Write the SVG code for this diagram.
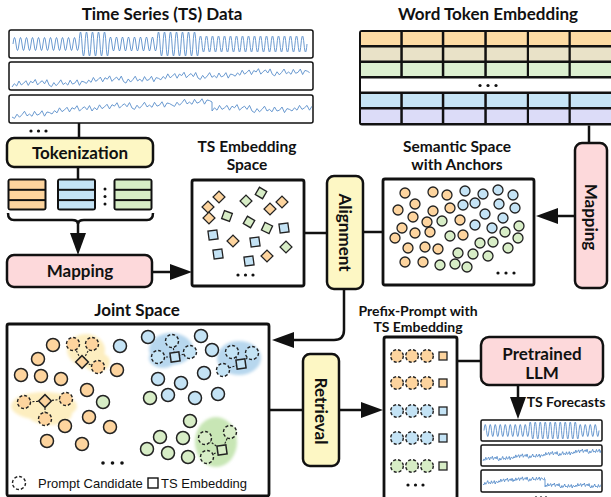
<svg xmlns="http://www.w3.org/2000/svg" width="611" height="497" viewBox="0 0 611 497">
<style>
.t{font-family:Lato,"Liberation Sans",sans-serif;font-weight:bold;fill:#111;text-anchor:middle}
.t17{font-size:17px}.t16{font-size:15.5px}.t14{font-size:14px}
.frame{fill:#fff;stroke:#111;stroke-width:2.8}
.sbox{fill:#fff;stroke:#111;stroke-width:1.5}
.nd{stroke:#111;stroke-width:2.5}
.yl{fill:#fdf7c4}.pk{fill:#fdd9db}
.o{fill:#fdd49e}.b{fill:#c4e3f5}.g{fill:#d7edc6}
.sh{stroke:#222;stroke-width:1.3}
.c{stroke:#222;stroke-width:1.5}
.dc{stroke:#222;stroke-width:1.4;stroke-dasharray:3 2}
.ln{fill:none;stroke:#111;stroke-width:2.5}
.ar{fill:none;stroke:#111;stroke-width:2.5;marker-end:url(#ah)}
.sig{fill:none;stroke:#5a8fcb;stroke-width:0.9}
.dl{fill:none;stroke:#222;stroke-width:1.1;stroke-dasharray:2 1.5}
.dot{fill:#111}
.lg{font-family:"Liberation Sans",Arial,sans-serif;font-size:13px;fill:#111}
.ho{fill:#fdeec0}.hb{fill:#b7d7ee}.hg{fill:#c8e6b5}
</style>
<defs>
<marker id="ah" markerUnits="userSpaceOnUse" markerWidth="24" markerHeight="16" refX="12" refY="8" orient="auto" viewBox="0 0 24 16"><path d="M0,0 L22,8 L0,16 z" fill="#111"/></marker>
<filter id="blur" x="-30%" y="-30%" width="160%" height="160%"><feGaussianBlur stdDeviation="1.8"/></filter>
<path id="nz" class="sig" vector-effect="non-scaling-stroke" d="M0 0 l2.5 -4 2.5 3 2.5 -6 2.5 5 2.5 -2 2.5 -3 2.5 6 2.5 -5 2.5 2 2.5 -4 2.5 7 2.5 -3 2.5 -2 2.5 4 2.5 -5 2.5 7 l2.5 2 2.5 -5 2.5 4 2.5 -3 2.5 -4 2.5 6 2.5 -2 2.5 3 2.5 -6 2.5 5 2.5 -1 2.5 -4 2.5 7 2.5 -5 2.5 1 2.5 2 l2.5 -4 2.5 3 2.5 -6 2.5 5 2.5 -2 2.5 -3 2.5 6 2.5 -5 2.5 2 2.5 -4 2.5 7 2.5 -3 2.5 -2 2.5 4 2.5 -5 2.5 7 l2.5 2 2.5 -5 2.5 4 2.5 -3 2.5 -4 2.5 6 2.5 -2 2.5 3 2.5 -6 2.5 5 2.5 -1 2.5 -4 2.5 7 2.5 -5 2.5 1 2.5 2 l2.5 -4 2.5 3 2.5 -6 2.5 5 2.5 -2 2.5 -3 2.5 6 2.5 -5 2.5 2 2.5 -4 2.5 7 2.5 -3 2.5 -2 2.5 4 2.5 -5 2.5 7 l2.5 2 2.5 -5 2.5 4 2.5 -3 2.5 -4 2.5 6 2.5 -2 2.5 3 2.5 -6 2.5 5 2.5 -1 2.5 -4 2.5 7 2.5 -5 2.5 1 2.5 2 l2.5 -4 2.5 3 2.5 -6 2.5 5 2.5 -2 2.5 -3 2.5 6 2.5 -5 2.5 2 2.5 -4 2.5 7 2.5 -3 2.5 -2 2.5 4 2.5 -5 2.5 7 l2.5 2 2.5 -5 2.5 4 2.5 -3 2.5 -4 2.5 6 2.5 -2 2.5 3 2.5 -6 2.5 5 2.5 -1 2.5 -4 2.5 7 2.5 -5 2.5 1 2.5 2"/>
<path id="nz2" class="sig" vector-effect="non-scaling-stroke" d="M0 0 l2.5 2 2.5 -5 2.5 4 2.5 -3 2.5 -4 2.5 6 2.5 -2 2.5 3 2.5 -6 2.5 5 2.5 -1 2.5 -4 2.5 7 2.5 -5 2.5 1 2.5 2 l2.5 -4 2.5 3 2.5 -6 2.5 5 2.5 -2 2.5 -3 2.5 6 2.5 -5 2.5 2 2.5 -4 2.5 7 2.5 -3 2.5 -2 2.5 4 2.5 -5 2.5 7 l2.5 -4 2.5 3 2.5 -6 2.5 5 2.5 -2 2.5 -3 2.5 6 2.5 -5 2.5 2 2.5 -4 2.5 7 2.5 -3 2.5 -2 2.5 4 2.5 -5 2.5 7 l2.5 2 2.5 -5 2.5 4 2.5 -3 2.5 -4 2.5 6 2.5 -2 2.5 3 2.5 -6 2.5 5 2.5 -1 2.5 -4 2.5 7 2.5 -5 2.5 1 2.5 2 l2.5 2 2.5 -5 2.5 4 2.5 -3 2.5 -4 2.5 6 2.5 -2 2.5 3 2.5 -6 2.5 5 2.5 -1 2.5 -4 2.5 7 2.5 -5 2.5 1 2.5 2 l2.5 -4 2.5 3 2.5 -6 2.5 5 2.5 -2 2.5 -3 2.5 6 2.5 -5 2.5 2 2.5 -4 2.5 7 2.5 -3 2.5 -2 2.5 4 2.5 -5 2.5 7 l2.5 2 2.5 -5 2.5 4 2.5 -3 2.5 -4 2.5 6 2.5 -2 2.5 3 2.5 -6 2.5 5 2.5 -1 2.5 -4 2.5 7 2.5 -5 2.5 1 2.5 2 l2.5 -4 2.5 3 2.5 -6 2.5 5 2.5 -2 2.5 -3 2.5 6 2.5 -5 2.5 2 2.5 -4 2.5 7 2.5 -3 2.5 -2 2.5 4 2.5 -5 2.5 7"/>
<clipPath id="c1"><rect x="10" y="31" width="302" height="26"/></clipPath>
<clipPath id="c2"><rect x="10" y="63" width="302" height="26"/></clipPath>
<clipPath id="c3a"><rect x="10" y="96" width="202" height="26"/></clipPath>
<clipPath id="c3b"><rect x="212" y="96" width="100" height="26"/></clipPath>
<clipPath id="f2"><rect x="482" y="446" width="119" height="19"/></clipPath>
<clipPath id="f3a"><rect x="482" y="471" width="63" height="20"/></clipPath>
<clipPath id="f3b"><rect x="545" y="471" width="56" height="20"/></clipPath>
</defs>

<g id="ts-data">
<text class="t t17" x="162" y="20">Time Series (TS) Data</text>
<rect class="sbox" x="9" y="30" width="304" height="28" rx="2"/>
<rect class="sbox" x="9" y="62" width="304" height="28" rx="2"/>
<rect class="sbox" x="9" y="95" width="304" height="28" rx="2"/>
<path class="sig" d="M13 44 q1.5 -13 3 0 t3 0 3 0 3 0 3 0 3 0 3 0 3 0 3 0 3 0 3 0 3 0 3 0 3 0 3 0 3 0 3 0 3 0 3 0 3 0 3 0 3 0 q1.5 -24 3 0 t3 0 3 0 3 0 3 0 3 0 3 0 3 0 3 0 3 0 q1.5 -14 3 0 t3 0 3 0 3 0 3 0 3 0 3 0 3 0 3 0 3 0 3 0 3 0 3 0 3 0 3 0 3 0 q1.5 -24 3 0 t3 0 3 0 3 0 3 0 3 0 3 0 3 0 3 0 3 0 3 0 3 0 3 0 3 0 q1.5 -16 3 0 t3 0 3 0 3 0 3 0 3 0 3 0 3 0 3 0 3 0 3 0 3 0 3 0 3 0 3 0 3 0 3 0 3 0 3 0 3 0 3 0 3 0 3 0 3 0 3 0 3 0 3 0 3 0 3 0 3 0 3 0 3 0 3 0 3 0 3 0 3 0"/>
<g clip-path="url(#c2)"><use href="#nz" transform="matrix(0.93,-0.045,0,0.8,12,87)"/></g>
<g clip-path="url(#c3a)"><use href="#nz2" transform="matrix(1,-0.075,0,0.8,12,117)"/></g>
<g clip-path="url(#c3b)"><use href="#nz" transform="matrix(1,0,0,0.8,212,111)"/></g>
<path class="sig" d="M212 102 L212 111"/>
<circle class="dot" cx="31" cy="131" r="1.6"/><circle class="dot" cx="38.5" cy="131" r="1.6"/><circle class="dot" cx="46" cy="131" r="1.6"/>
</g>

<g id="tokenization">
<rect class="nd yl" x="7" y="138" width="146" height="29" rx="7"/>
<text class="t t17" x="80" y="159">Tokenization</text>
</g>

<g id="ts-tokens">
<rect x="7.5" y="178.5" width="39" height="32" rx="3" fill="#111"/>
<rect class="o" x="9.5" y="180.5" width="35" height="8.3"/><rect class="o" x="9.5" y="190.8" width="35" height="8.3"/><rect class="o" x="9.5" y="201.1" width="35" height="7.4"/>
<rect x="57" y="178.5" width="39" height="32" rx="3" fill="#111"/>
<rect class="b" x="59" y="180.5" width="35" height="8.3"/><rect class="b" x="59" y="190.8" width="35" height="8.3"/><rect class="b" x="59" y="201.1" width="35" height="7.4"/>
<rect x="113.5" y="178.5" width="39" height="32" rx="3" fill="#111"/>
<rect class="g" x="115.5" y="180.5" width="35" height="8.3"/><rect class="g" x="115.5" y="190.8" width="35" height="8.3"/><rect class="g" x="115.5" y="201.1" width="35" height="7.4"/>
<circle class="dot" cx="105" cy="189" r="1.5"/><circle class="dot" cx="105" cy="196.5" r="1.5"/><circle class="dot" cx="105" cy="204" r="1.5"/>
</g>

<g id="mapping-ts">
<rect class="nd pk" x="7" y="255" width="145" height="32" rx="7"/>
<text class="t t17" x="80" y="277">Mapping</text>
</g>

<g id="ts-embedding-space">
<text class="t t16" x="247" y="152">TS Embedding</text>
<text class="t t16" x="247" y="170">Space</text>
<rect class="frame" x="192" y="180" width="112" height="106" rx="2"/>
<g class="sh">
<rect class="o" x="-4.2" y="-4.2" width="8.4" height="8.4" transform="translate(219,197) rotate(45)"/>
<rect class="o" x="-4.2" y="-4.2" width="8.4" height="8.4" transform="translate(208,207) rotate(45)"/>
<rect class="o" x="-4.2" y="-4.2" width="8.4" height="8.4" transform="translate(209,218) rotate(45)"/>
<rect class="o" x="-4.2" y="-4.2" width="8.4" height="8.4" transform="translate(233,241) rotate(45)"/>
<rect class="o" x="-4.2" y="-4.2" width="8.4" height="8.4" transform="translate(270,209) rotate(45)"/>
<rect class="o" x="-4.2" y="-4.2" width="8.4" height="8.4" transform="translate(282,202) rotate(45)"/>
<rect class="o" x="-4.2" y="-4.2" width="8.4" height="8.4" transform="translate(267,256) rotate(45)"/>
<rect class="g" x="-4.2" y="-4.2" width="8.4" height="8.4" transform="translate(246,201) rotate(45)"/>
<rect class="g" x="-4.2" y="-4.2" width="8.4" height="8.4" transform="translate(261,193) rotate(30)"/>
<rect class="g" x="-4.2" y="-4.2" width="8.4" height="8.4" transform="translate(227,216) rotate(20)"/>
<rect class="g" x="-4.2" y="-4.2" width="8.4" height="8.4" transform="translate(249,222) rotate(30)"/>
<rect class="g" x="-4.2" y="-4.2" width="8.4" height="8.4" transform="translate(267,228) rotate(25)"/>
<rect class="g" x="-4.2" y="-4.2" width="8.4" height="8.4" transform="translate(286,247) rotate(45)"/>
<rect class="b" x="-4.5" y="-4.5" width="9" height="9" transform="translate(213,235) rotate(-8)"/>
<rect class="b" x="-4.5" y="-4.5" width="9" height="9" transform="translate(218,254) rotate(-8)"/>
<rect class="b" x="-4.5" y="-4.5" width="9" height="9" transform="translate(255,242) rotate(-8)"/>
<rect class="b" x="-4.5" y="-4.5" width="9" height="9" transform="translate(249,261) rotate(-8)"/>
<rect class="b" x="-4.5" y="-4.5" width="9" height="9" transform="translate(284,228) rotate(-8)"/>
</g>
<circle class="dot" cx="238" cy="275" r="1.6"/><circle class="dot" cx="245.5" cy="275" r="1.6"/><circle class="dot" cx="253" cy="275" r="1.6"/>
</g>

<g id="alignment">
<rect class="nd yl" x="327" y="176" width="36" height="113" rx="7"/>
<text class="t t17" transform="translate(345,232.5) rotate(90)" dy="6">Alignment</text>
</g>

<g id="semantic-space">
<text class="t t16" x="457" y="152">Semantic Space</text>
<text class="t t16" x="457" y="170">with Anchors</text>
<rect class="frame" x="383" y="179" width="151" height="106" rx="2"/>
<g class="sh">
<circle class="o" cx="405" cy="193" r="5"/><circle class="o" cx="433" cy="192" r="5"/><circle class="o" cx="447" cy="195" r="5"/>
<circle class="o" cx="415" cy="204" r="5"/><circle class="o" cx="398" cy="210" r="5"/><circle class="o" cx="433" cy="211" r="5"/>
<circle class="o" cx="450" cy="208" r="5"/><circle class="o" cx="413" cy="217" r="5"/><circle class="o" cx="427" cy="222" r="5"/>
<circle class="o" cx="460" cy="220" r="5"/><circle class="o" cx="402" cy="228" r="5"/><circle class="o" cx="430" cy="232" r="5"/>
<circle class="o" cx="415" cy="233" r="5"/><circle class="o" cx="395" cy="238" r="5"/><circle class="o" cx="463" cy="235" r="5"/>
<circle class="o" cx="408" cy="248" r="5"/><circle class="o" cx="425" cy="247" r="5"/><circle class="o" cx="438" cy="249" r="5"/>
<circle class="o" cx="405" cy="262" r="5"/><circle class="o" cx="423" cy="262" r="5"/>
<circle class="b" cx="465" cy="191" r="5"/><circle class="b" cx="483" cy="194" r="5"/><circle class="b" cx="498" cy="190" r="5"/>
<circle class="b" cx="513" cy="195" r="5"/><circle class="b" cx="463" cy="205" r="5"/><circle class="b" cx="475" cy="203" r="5"/>
<circle class="b" cx="499" cy="204" r="5"/><circle class="b" cx="515" cy="208" r="5"/><circle class="b" cx="485" cy="214" r="5"/>
<circle class="b" cx="503" cy="218" r="5"/><circle class="b" cx="475" cy="225" r="5"/><circle class="b" cx="492" cy="228" r="5"/>
<circle class="g" cx="442" cy="221" r="5"/><circle class="g" cx="450" cy="236" r="5"/><circle class="g" cx="505" cy="232" r="5"/>
<circle class="g" cx="519" cy="226" r="5"/><circle class="g" cx="518" cy="238" r="5"/><circle class="g" cx="493" cy="242" r="5"/>
<circle class="g" cx="480" cy="243" r="5"/><circle class="g" cx="458" cy="253" r="5"/><circle class="g" cx="473" cy="254" r="5"/>
<circle class="g" cx="488" cy="256" r="5"/><circle class="g" cx="508" cy="248" r="5"/><circle class="g" cx="440" cy="265" r="5"/>
<circle class="g" cx="455" cy="264" r="5"/><circle class="g" cx="467" cy="267" r="5"/>
</g>
<circle class="dot" cx="498" cy="273" r="1.6"/><circle class="dot" cx="506" cy="273" r="1.6"/><circle class="dot" cx="514" cy="273" r="1.6"/>
</g>

<g id="word-token-embedding">
<text class="t t17" x="488" y="20">Word Token Embedding</text>
<rect x="359" y="30" width="256" height="95.5" rx="3" fill="#111"/>
<g fill="#fddba4"><rect x="361" y="32" width="39.3" height="13"/><rect x="402.8" y="32" width="39" height="13"/><rect x="444.3" y="32" width="40" height="13"/><rect x="486.8" y="32" width="40" height="13"/><rect x="529" y="32" width="39.5" height="13"/><rect x="570.8" y="32" width="42" height="13"/></g>
<g fill="#e9e2c8"><rect x="361" y="47.5" width="39.3" height="13"/><rect x="402.8" y="47.5" width="39" height="13"/><rect x="444.3" y="47.5" width="40" height="13"/><rect x="486.8" y="47.5" width="40" height="13"/><rect x="529" y="47.5" width="39.5" height="13"/><rect x="570.8" y="47.5" width="42" height="13"/></g>
<g fill="#dcefd0"><rect x="361" y="63" width="39.3" height="13"/><rect x="402.8" y="63" width="39" height="13"/><rect x="444.3" y="63" width="40" height="13"/><rect x="486.8" y="63" width="40" height="13"/><rect x="529" y="63" width="39.5" height="13"/><rect x="570.8" y="63" width="42" height="13"/></g>
<rect x="361" y="78.5" width="252" height="13" fill="#fff"/>
<g fill="#c6e4f5"><rect x="361" y="94" width="39.3" height="13"/><rect x="402.8" y="94" width="39" height="13"/><rect x="444.3" y="94" width="40" height="13"/><rect x="486.8" y="94" width="40" height="13"/><rect x="529" y="94" width="39.5" height="13"/><rect x="570.8" y="94" width="42" height="13"/></g>
<g fill="#dcdcf8"><rect x="361" y="109.5" width="39.3" height="13.5"/><rect x="402.8" y="109.5" width="39" height="13.5"/><rect x="444.3" y="109.5" width="40" height="13.5"/><rect x="486.8" y="109.5" width="40" height="13.5"/><rect x="529" y="109.5" width="39.5" height="13.5"/><rect x="570.8" y="109.5" width="42" height="13.5"/></g>
<circle class="dot" cx="480" cy="85.5" r="1.6"/><circle class="dot" cx="488" cy="85.5" r="1.6"/><circle class="dot" cx="496" cy="85.5" r="1.6"/>
</g>

<g id="mapping-word">
<rect class="nd pk" x="575" y="143" width="32" height="145" rx="7"/>
<text class="t t17" transform="translate(591,217) rotate(90)" dy="6">Mapping</text>
</g>

<g id="joint-space">
<text class="t t17" x="137" y="316">Joint Space</text>
<rect class="frame" x="7" y="324" width="262" height="172" rx="2"/>
<g filter="url(#blur)">
<ellipse class="ho" cx="86" cy="350" rx="19" ry="16"/><ellipse class="ho" cx="97" cy="362" rx="13" ry="10"/>
<ellipse class="ho" cx="44" cy="406" rx="33" ry="14"/><ellipse class="ho" cx="50" cy="414" rx="22" ry="11"/>
<ellipse class="hb" cx="171" cy="349" rx="22" ry="16"/><ellipse class="hb" cx="163" cy="358" rx="14" ry="10"/>
<ellipse class="hb" cx="239" cy="358" rx="22" ry="17"/>
<ellipse class="hg" cx="216" cy="442" rx="21" ry="25"/>
</g>
<g class="c">
<circle class="o" cx="53" cy="345" r="6.5"/><circle class="o" cx="38" cy="359" r="6.5"/><circle class="o" cx="21" cy="375" r="6.5"/>
<circle class="o" cx="41" cy="376" r="6.5"/><circle class="o" cx="61" cy="379" r="6.5"/><circle class="o" cx="117" cy="370" r="6.5"/>
<circle class="o" cx="87" cy="390" r="6.5"/><circle class="o" cx="89" cy="417" r="6.5"/><circle class="o" cx="65" cy="426" r="6.5"/>
<circle class="o" cx="110" cy="427" r="6.5"/><circle class="o" cx="47" cy="441" r="6.5"/><circle class="o" cx="82" cy="444" r="6.5"/>
<circle class="b" cx="120" cy="346" r="6.5"/><circle class="b" cx="148" cy="337" r="6.5"/><circle class="b" cx="201" cy="336" r="6.5"/>
<circle class="b" cx="212" cy="350" r="6.5"/><circle class="b" cx="204" cy="373" r="6.5"/><circle class="b" cx="158" cy="379" r="6.5"/>
<circle class="b" cx="181" cy="383" r="6.5"/><circle class="b" cx="195" cy="398" r="6.5"/><circle class="b" cx="218" cy="394" r="6.5"/>
<circle class="b" cx="168" cy="395" r="6.5"/>
<circle class="g" cx="103" cy="402" r="6.5"/><circle class="g" cx="150" cy="398" r="6.5"/><circle class="g" cx="190" cy="421" r="6.5"/>
<circle class="g" cx="160" cy="437" r="6.5"/><circle class="g" cx="183" cy="438" r="6.5"/><circle class="g" cx="147" cy="449" r="6.5"/>
<circle class="g" cx="168" cy="453" r="6.5"/><circle class="g" cx="188" cy="457" r="6.5"/>
</g>
<g class="dl">
<path d="M82 362 L73 344 M82 362 L92 344 M82 362 L98 367"/>
<path d="M45 401 L24 402 M45 401 L66 399 M45 401 L45 419"/>
<path d="M175 357 L172 341 M175 357 L158 357 M175 357 L190 352"/>
<path d="M241 364 L232 352 M241 364 L252 353 M241 364 L223 370"/>
<path d="M222 450 L230 432 M222 450 L205 438 M222 450 L207 457"/>
</g>
<g class="dc">
<circle class="o" cx="73" cy="344" r="6.5"/><circle class="o" cx="92" cy="344" r="6.5"/><circle class="o" cx="98" cy="367" r="6.5"/>
<circle class="o" cx="24" cy="402" r="6.5"/><circle class="o" cx="66" cy="399" r="6.5"/><circle class="o" cx="45" cy="419" r="6.5"/>
<circle class="b" cx="172" cy="341" r="6.5"/><circle class="b" cx="158" cy="357" r="6.5"/><circle class="b" cx="190" cy="352" r="6.5"/>
<circle class="b" cx="232" cy="352" r="6.5"/><circle class="b" cx="252" cy="353" r="6.5"/><circle class="b" cx="223" cy="370" r="6.5"/>
<circle class="g" cx="230" cy="432" r="6.5"/><circle class="g" cx="205" cy="438" r="6.5"/><circle class="g" cx="207" cy="457" r="6.5"/>
</g>
<g class="c">
<rect class="o" x="-4.5" y="-4.5" width="9" height="9" transform="translate(82,362) rotate(45)"/>
<rect class="o" x="-4.5" y="-4.5" width="9" height="9" transform="translate(45,401) rotate(45)"/>
<rect class="b" x="-4.5" y="-4.5" width="9" height="9" transform="translate(175,357) rotate(-8)"/>
<rect class="b" x="-4.5" y="-4.5" width="9" height="9" transform="translate(241,364) rotate(-8)"/>
<rect class="g" x="-4.5" y="-4.5" width="9" height="9" transform="translate(222,450) rotate(-8)"/>
</g>
<circle class="dot" cx="103" cy="463" r="1.8"/><circle class="dot" cx="112.5" cy="463" r="1.8"/><circle class="dot" cx="122" cy="463" r="1.8"/>
<circle class="dc" cx="19" cy="483" r="6.5" fill="#fff"/>
<text class="lg" x="38" y="488">Prompt Candidate</text>
<rect x="148" y="478" width="10" height="10" fill="#fff" stroke="#111" stroke-width="1.4"/>
<text class="lg" x="161" y="488">TS Embedding</text>
</g>

<g id="retrieval">
<rect class="nd yl" x="303" y="354" width="36" height="112" rx="7"/>
<text class="t t17" transform="translate(321,411) rotate(90)" dy="6">Retrieval</text>
</g>

<g id="prefix-prompt">
<text class="t t14" x="418" y="316">Prefix-Prompt with</text>
<text class="t t14" x="418" y="332">TS Embedding</text>
<rect class="frame" x="384" y="337" width="73" height="170" rx="2"/>
<g class="dc">
<circle class="o" cx="397" cy="356" r="6.3"/><circle class="o" cx="412" cy="356" r="6.3"/><circle class="o" cx="427" cy="356" r="6.3"/>
<circle class="o" cx="397" cy="383" r="6.3"/><circle class="o" cx="412" cy="383" r="6.3"/><circle class="o" cx="427" cy="383" r="6.3"/>
<circle class="b" cx="397" cy="411" r="6.3"/><circle class="b" cx="412" cy="411" r="6.3"/><circle class="b" cx="427" cy="411" r="6.3"/>
<circle class="b" cx="397" cy="438" r="6.3"/><circle class="b" cx="412" cy="438" r="6.3"/><circle class="b" cx="427" cy="438" r="6.3"/>
<circle class="g" cx="397" cy="466" r="6.3"/><circle class="g" cx="412" cy="466" r="6.3"/><circle class="g" cx="427" cy="466" r="6.3"/>
</g>
<g class="sh">
<rect class="o" x="439" y="352" width="8" height="8"/><rect class="o" x="439" y="379" width="8" height="8"/>
<rect class="b" x="439" y="407" width="8" height="8"/><rect class="b" x="439" y="434" width="8" height="8"/>
<rect class="g" x="439" y="462" width="8" height="8"/>
</g>
<circle class="dot" cx="408" cy="485" r="1.6"/><circle class="dot" cx="415.5" cy="485" r="1.6"/><circle class="dot" cx="423" cy="485" r="1.6"/>
</g>

<g id="pretrained-llm">
<rect class="nd pk" x="481" y="337" width="122" height="48" rx="8"/>
<text class="t t17" x="542" y="360">Pretrained</text>
<text class="t t17" x="542" y="379">LLM</text>
</g>

<g id="ts-forecasts">
<text class="t t14" x="566" y="407">TS Forecasts</text>
<rect class="sbox" x="481" y="420" width="121" height="21" rx="1.5" stroke-width="1.4"/>
<rect class="sbox" x="481" y="445" width="121" height="21" rx="1.5" stroke-width="1.4"/>
<rect class="sbox" x="481" y="470" width="121" height="22" rx="1.5" stroke-width="1.4"/>
<path class="sig" d="M484 430.5 q1.25 -12 2.5 0 t2.5 0 2.5 0 2.5 0 2.5 0 2.5 0 2.5 0 2.5 0 2.5 0 2.5 0 2.5 0 2.5 0 2.5 0 2.5 0 2.5 0 2.5 0 2.5 0 2.5 0 q1.25 -17 2.5 0 t2.5 0 2.5 0 2.5 0 2.5 0 2.5 0 2.5 0 2.5 0 2.5 0 2.5 0 2.5 0 2.5 0 2.5 0 2.5 0 2.5 0 2.5 0 2.5 0 2.5 0 2.5 0 2.5 0 q1.25 -12 2.5 0 t2.5 0 2.5 0 2.5 0 2.5 0 2.5 0 2.5 0 2.5 0"/>
<g clip-path="url(#f2)"><use href="#nz" transform="matrix(0.375,-0.03,0,0.5,483,461)"/></g>
<g clip-path="url(#f3a)"><use href="#nz2" transform="matrix(0.375,-0.03,0,0.5,483,484)"/></g>
<g clip-path="url(#f3b)"><use href="#nz" transform="matrix(0.375,0,0,0.5,545,487)"/></g>
<path class="sig" d="M545 479 L545 487"/>
<circle class="dot" cx="536" cy="497.5" r="1.2"/><circle class="dot" cx="541" cy="497.5" r="1.2"/><circle class="dot" cx="546" cy="497.5" r="1.2"/>
</g>

<g id="connectors">
<path class="ln" d="M79 123 V138"/>
<path class="ln" d="M78 167 V179"/>
<path class="ln" stroke-width="2" d="M8 213 Q8 220 14 220 H72 Q78 220 78 224 Q78 220 84 220 H147 Q153 220 153 213"/>
<path class="ar" d="M78 222 V245"/>
<path class="ar" d="M152 272 H182"/>
<path class="ln" d="M304 233 H327"/>
<path class="ln" d="M363 232 H383"/>
<path class="ln" d="M589 125.5 V143"/>
<path class="ar" d="M575 216 H546"/>
<path class="ar" d="M344 289 V330 Q344 340 334 340 H282"/>
<path class="ln" d="M269 410 H303"/>
<path class="ar" d="M339 410 H373"/>
<path class="ln" d="M457 361 H481"/>
<path class="ar" d="M518 385 V409"/>
</g>
</svg>
